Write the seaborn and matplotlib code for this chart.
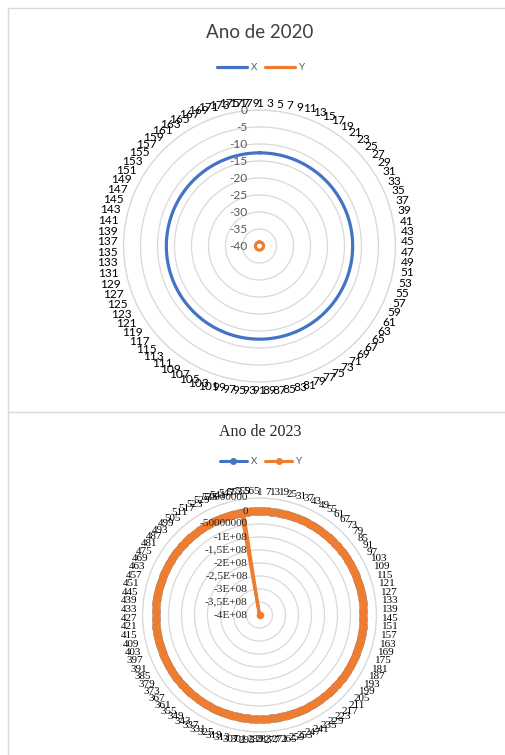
import numpy as np
import matplotlib
matplotlib.use("Agg")
import matplotlib.pyplot as plt
from matplotlib.lines import Line2D
import seaborn as sns

# ---------------------------------------------------------------- data
CATS_2020 = list(range(1, 181))
X_2020 = [-12.6] * 180
Y_2020 = [-38.8] * 180
RTICKS_2020 = [-40, -35, -30, -25, -20, -15, -10, -5, 0]
RLABELS_2020 = ["-40", "-35", "-30", "-25", "-20", "-15", "-10", "-5", "0"]

CATS_2023 = list(range(1, 571))
X_2023 = [-12.6] * 570
Y_2023 = [0.0] * 555 + [-4.0e8] + [0.0] * 14
RTICKS_2023 = [-4.0e8, -3.5e8, -3.0e8, -2.5e8, -2.0e8, -1.5e8, -1.0e8, -5.0e7, 0.0, 5.0e7]
RLABELS_2023 = ["-4E+08", "-3,5E+08", "-3E+08", "-2,5E+08", "-2E+08",
                "-1,5E+08", "-1E+08", "-50000000", "0", "50000000"]

BLUE = "#4472C4"
ORANGE = "#ED7D31"
GRID = "#D9D9D9"

sns.set_theme(style="white")
plt.rcParams["font.family"] = ["Lato", "DejaVu Sans"]

W, H = 505, 755
fig = plt.figure(figsize=(W / 100, H / 100), dpi=100)
fig.patch.set_facecolor("white")


def fx(x):
    return x / W


def fy(y):
    return 1 - y / H


def polar_box(cx, cy, r):
    return [(cx - r) / W, (H - cy - r) / H, 2 * r / W, 2 * r / H]


# chart frames
for xs, ys in [([8, 8], [8, H + 5]), ([8, W + 5], [8, 8]), ([8, W + 5], [412, 412])]:
    fig.add_artist(Line2D([fx(v) for v in xs], [fy(v) for v in ys],
                          transform=fig.transFigure, color=GRID, lw=1.0))


def closed(values):
    n = len(values)
    theta = np.linspace(0, 2 * np.pi, n, endpoint=False)
    return np.append(theta, 2 * np.pi), np.append(np.asarray(values, float), values[0])


def radar(ax, cats, series, rticks, rlabels, step, cat_font, cat_size,
          char_w, char_h, rlab_font, rlab_size, rlab_color):
    ax.set_theta_zero_location("N")
    ax.set_theta_direction(-1)
    for vals, color, lw, ms in series:
        th, rv = closed(vals)
        kw = dict(marker="o", markersize=ms, markeredgewidth=0) if ms else {}
        sns.lineplot(x=th, y=rv, ax=ax, sort=False, estimator=None, color=color,
                     lw=lw, legend=False, **kw)
    ax.set_ylim(rticks[0], rticks[-1])
    ax.set_yticks(rticks[1:])
    ax.set_yticklabels([])
    ax.set_xticks([])
    ax.set_xlabel("")
    ax.set_ylabel("")
    ax.xaxis.grid(False)
    ax.yaxis.grid(True, color=GRID, lw=0.9)
    ax.spines["polar"].set_color(GRID)
    ax.spines["polar"].set_linewidth(0.9)
    ax.set_facecolor("white")

    # radial value labels to the left of the vertical axis
    for v, lab in zip(rticks, rlabels):
        ax.annotate(lab, xy=(0, v), xytext=(-8.5, 0), textcoords="offset points",
                    ha="right", va="center", fontsize=rlab_size,
                    family=rlab_font, color=rlab_color, annotation_clip=False)

    # category labels around the outer ring
    n = len(cats)
    rmax = rticks[-1]
    for i in range(0, n, step):
        lab = str(cats[i])
        th = 2 * np.pi * i / n
        s, c = np.sin(th), np.cos(th)
        w = len(lab) * char_w
        d = 4.0 * abs(s) + 2.0 * abs(c) + 0.5 * w * abs(s) + 0.5 * char_h * abs(c)
        ax.annotate(lab, xy=(th, rmax), xytext=(d * s, d * c),
                    textcoords="offset points", ha="center", va="center_baseline",
                    fontsize=cat_size, family=cat_font, color="black",
                    annotation_clip=False)


# ---------------------------------------------------------------- 2020
ax1 = fig.add_axes(polar_box(259.5, 246, 136), projection="polar")
radar(ax1, CATS_2020,
      [(X_2020, BLUE, 2.3, None), (Y_2020, ORANGE, 2.3, None)],
      RTICKS_2020, RLABELS_2020, 2, ["Lato", "DejaVu Sans"], 8.6, 5.0, 6.2,
      ["Lato", "DejaVu Sans"], 8.6, "#595959")

fig.text(fx(260), fy(33), "Ano de 2020", ha="center", va="center",
         fontsize=13.5, color="#404040")
h1 = [Line2D([], [], color=BLUE, lw=2.3), Line2D([], [], color=ORANGE, lw=2.3)]
fig.legend(h1, ["X", "Y"], loc="center", bbox_to_anchor=(fx(261), fy(68)),
           ncol=2, frameon=False, fontsize=7, handlelength=3.1,
           handletextpad=0.4, columnspacing=0.8, labelcolor="#595959")

# ---------------------------------------------------------------- 2023
serif = ["Liberation Serif", "DejaVu Serif"]
ax2 = fig.add_axes(polar_box(259.5, 615, 117), projection="polar")
radar(ax2, CATS_2023,
      [(X_2023, BLUE, 2.2, 5.5), (Y_2023, ORANGE, 2.2, 5.5)],
      RTICKS_2023, RLABELS_2023, 6, serif, 7.9, 3.95, 5.3,
      serif, 8.2, "#262626")

fig.text(fx(260), fy(432), "Ano de 2023", ha="center", va="center",
         fontsize=11.5, color="#262626", family=serif)
h2 = [Line2D([], [], color=BLUE, lw=2.2, marker="o", markersize=5, markeredgewidth=0),
      Line2D([], [], color=ORANGE, lw=2.2, marker="o", markersize=5, markeredgewidth=0)]
fig.legend(h2, ["X", "Y"], loc="center", bbox_to_anchor=(fx(261), fy(462)),
           ncol=2, frameon=False, fontsize=7, handlelength=2.8,
           handletextpad=0.4, columnspacing=0.8, labelcolor="#595959")

fig.savefig("out.png", dpi=100, facecolor="white")
